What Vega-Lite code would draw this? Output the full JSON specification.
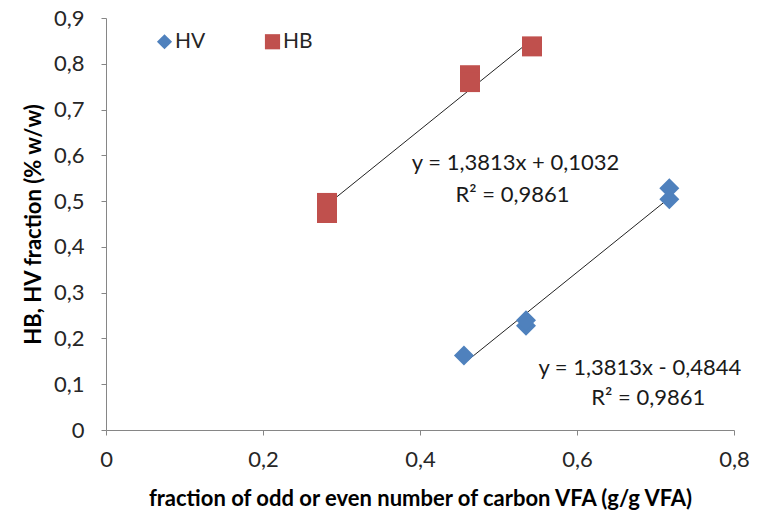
{
  "$schema": "https://vega.github.io/schema/vega-lite/v6.json",
  "width": 628,
  "height": 412,
  "autosize": {"type": "none"},
  "padding": {"left": 106, "top": 18, "right": 31, "bottom": 85},
  "background": "white",
  "config": {
    "view": {"stroke": null},
    "font": "Lato",
    "axis": {
      "grid": false,
      "domainColor": "#868686",
      "tickColor": "#868686",
      "tickSize": 5,
      "labelFont": "Lato",
      "labelFontSize": 22,
      "labelColor": "#262626",
      "titleFont": "Lato",
      "titleFontSize": 22,
      "titleFontWeight": "bold",
      "titleColor": "#000000"
    }
  },
  "datasets": {
    "points": [
      {"series": "HV", "x": 0.456, "y": 0.163},
      {"series": "HV", "x": 0.535, "y": 0.228},
      {"series": "HV", "x": 0.535, "y": 0.240},
      {"series": "HV", "x": 0.7176, "y": 0.504},
      {"series": "HV", "x": 0.7176, "y": 0.528},
      {"series": "HB", "x": 0.2815, "y": 0.496},
      {"series": "HB", "x": 0.2815, "y": 0.474},
      {"series": "HB", "x": 0.4637, "y": 0.775},
      {"series": "HB", "x": 0.4637, "y": 0.760},
      {"series": "HB", "x": 0.5427, "y": 0.838}
    ],
    "trend": [
      {"series": "HV", "x": 0.456, "y": 0.1455},
      {"series": "HV", "x": 0.7176, "y": 0.5068},
      {"series": "HB", "x": 0.2815, "y": 0.492},
      {"series": "HB", "x": 0.5427, "y": 0.853}
    ],
    "labels": [
      {"text": "y = 1,3813x + 0,1032", "x": 0.5217, "y": 0.5832},
      {"text": "R² = 0,9861", "x": 0.5178, "y": 0.5133},
      {"text": "y = 1,3813x - 0,4844", "x": 0.680, "y": 0.1348},
      {"text": "R² = 0,9861", "x": 0.6908, "y": 0.0706}
    ]
  },
  "layer": [
    {
      "data": {"name": "trend"},
      "mark": {"type": "line", "color": "#222222", "strokeWidth": 1},
      "encoding": {
        "x": {"field": "x", "type": "quantitative"},
        "y": {"field": "y", "type": "quantitative"},
        "detail": {"field": "series"}
      }
    },
    {
      "data": {"name": "points"},
      "mark": {"type": "point", "filled": true, "opacity": 1, "size": 400, "strokeWidth": 1},
      "encoding": {
        "x": {
          "field": "x", "type": "quantitative",
          "scale": {"domain": [0, 0.8], "nice": false, "zero": false},
          "axis": {
            "values": [0, 0.2, 0.4, 0.6, 0.8],
            "title": "fraction of odd or even number of carbon VFA (g/g VFA)",
            "labelExpr": "datum.value == 0 ? '0' : replace(format(datum.value, '.1f'), '.', ',')",
            "labelPadding": 14,
            "titlePadding": 18,
            "labelFlush": false
          }
        },
        "y": {
          "field": "y", "type": "quantitative",
          "scale": {"domain": [0, 0.9], "nice": false, "zero": false},
          "axis": {
            "values": [0, 0.1, 0.2, 0.3, 0.4, 0.5, 0.6, 0.7, 0.8, 0.9],
            "title": "HB, HV fraction (% w/w)",
            "labelExpr": "datum.value == 0 ? '0' : replace(format(datum.value, '.1f'), '.', ',')",
            "labelPadding": 17,
            "titlePadding": 8,
            "labelFlush": false
          }
        },
        "color": {
          "field": "series", "type": "nominal",
          "scale": {"domain": ["HV", "HB"], "range": ["#4F81BD", "#C0504D"]},
          "legend": {
            "title": null,
            "orient": "none",
            "legendX": 48,
            "legendY": 13,
            "direction": "horizontal",
            "columns": 2,
            "columnPadding": 56,
            "symbolSize": 230,
            "symbolStrokeWidth": 0,
            "labelFont": "Lato",
            "labelFontSize": 21,
            "labelColor": "#262626",
            "labelOffset": 0
          }
        },
        "shape": {
          "field": "series", "type": "nominal",
          "scale": {"domain": ["HV", "HB"], "range": ["diamond", "square"]},
          "legend": {
            "title": null,
            "orient": "none",
            "legendX": 48,
            "legendY": 13,
            "direction": "horizontal",
            "columns": 2,
            "columnPadding": 56,
            "symbolSize": 230,
            "symbolStrokeWidth": 0,
            "labelFont": "Lato",
            "labelFontSize": 21,
            "labelColor": "#262626",
            "labelOffset": 0
          }
        }
      }
    },
    {
      "data": {"name": "labels"},
      "mark": {"type": "text", "font": "Lato", "fontSize": 22, "color": "#1a1a1a", "align": "center", "baseline": "middle"},
      "encoding": {
        "x": {"field": "x", "type": "quantitative"},
        "y": {"field": "y", "type": "quantitative"},
        "text": {"field": "text"}
      }
    }
  ]
}
